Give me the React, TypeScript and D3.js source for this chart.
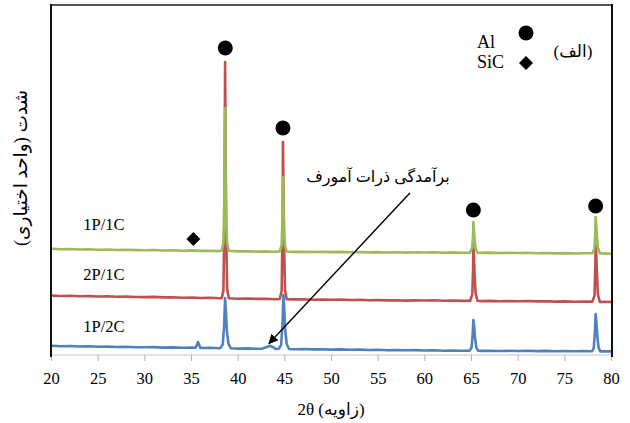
import React from "react";
import * as d3 from "d3";

const W = 630;
const H = 423;

// 2θ positions of the sampled baseline values
const THETA = d3.range(20, 81);

// Baselines (intensity, arbitrary units)
const greenBase = [
  1062, 1058, 1060, 1055, 1057, 1053, 1055, 1050, 1052, 1049,
  1048, 1050, 1045, 1047, 1043, 1046, 1041, 1043, 1039, 1041,
  1036, 1038, 1034, 1036, 1032, 1035, 1031, 1033, 1030, 1032,
  1029, 1031, 1027, 1030, 1026, 1029, 1025, 1028, 1024, 1027,
  1025, 1027, 1023, 1026, 1022, 1025, 1021, 1024, 1020, 1022,
  1020, 1022, 1018, 1020, 1016, 1019, 1015, 1017, 1013, 1016,
  1012,
];
const redBase = [
  594, 590, 592, 587, 589, 585, 587, 582, 584, 580,
  579, 581, 576, 578, 573, 575, 570, 572, 567, 569,
  563, 565, 561, 563, 558, 560, 556, 558, 553, 555,
  552, 554, 550, 552, 548, 550, 546, 548, 544, 546,
  545, 547, 543, 545, 541, 543, 539, 541, 537, 539,
  538, 540, 536, 538, 534, 536, 532, 534, 530, 532,
  530,
];
const blueBase = [
  92, 88, 90, 85, 87, 82, 84, 80, 82, 78,
  77, 79, 74, 76, 72, 74, 70, 72, 68, 70,
  64, 66, 62, 64, 60, 63, 58, 60, 56, 58,
  54, 56, 52, 54, 50, 52, 48, 50, 47, 49,
  45, 47, 43, 45, 42, 44, 41, 43, 40, 42,
  40, 42, 39, 41, 38, 40, 37, 39, 36, 38,
  36,
];

// Peaks [2θ, intensity]
const greenPeaks: number[][][] = [
  [[38.25, 1045], [38.42, 1120], [38.53, 1600], [38.6, 2470], [38.66, 1800], [38.72, 1350], [38.82, 1120], [39.0, 1042]],
  [[44.45, 1036], [44.66, 1100], [44.76, 1400], [44.8, 1780], [44.86, 1500], [44.92, 1250], [45.02, 1090], [45.2, 1035]],
  [[64.85, 1024], [65.08, 1075], [65.17, 1200], [65.2, 1330], [65.26, 1260], [65.33, 1150], [65.44, 1065], [65.65, 1023]],
  [[77.95, 1017], [78.18, 1065], [78.27, 1250], [78.3, 1380], [78.36, 1300], [78.44, 1180], [78.54, 1075], [78.75, 1015]],
];
const redPeaks: number[][][] = [
  [[38.25, 570], [38.42, 650], [38.53, 1400], [38.6, 2930], [38.66, 2000], [38.72, 1200], [38.82, 660], [39.0, 568]],
  [[44.45, 560], [44.66, 640], [44.76, 1300], [44.8, 2130], [44.86, 1600], [44.92, 1100], [45.02, 650], [45.2, 558]],
  [[64.85, 543], [65.08, 605], [65.17, 850], [65.2, 1100], [65.26, 1000], [65.33, 800], [65.44, 615], [65.65, 542]],
  [[77.95, 534], [78.18, 595], [78.27, 900], [78.3, 1100], [78.36, 1020], [78.44, 820], [78.54, 605], [78.75, 531]],
];
const bluePeaks: number[][][] = [
  [[35.45, 73], [35.7, 130], [35.95, 71]],
  [[38.1, 70], [38.35, 105], [38.5, 300], [38.6, 570], [38.68, 450], [38.78, 250], [38.95, 115], [39.2, 68]],
  [[42.5, 63], [43.0, 78], [43.4, 92], [43.9, 70]],
  [[44.35, 62], [44.6, 100], [44.75, 300], [44.85, 600], [44.93, 480], [45.03, 260], [45.2, 110], [45.45, 60]],
  [[64.8, 44], [65.0, 72], [65.12, 200], [65.2, 350], [65.28, 290], [65.38, 170], [65.52, 72], [65.7, 43]],
  [[77.9, 38], [78.1, 68], [78.22, 230], [78.3, 410], [78.38, 330], [78.48, 190], [78.62, 72], [78.8, 36]],
];

const xTicks = [20, 25, 30, 35, 40, 45, 50, 55, 60, 65, 70, 75, 80];

const seriesNames = ["1P/1C", "2P/1C", "1P/2C"];
const seriesColors = ["#9BBB59", "#C0504D", "#4F81BD"];
const labelIntensity = [1250, 750, 230];

const alMarkers = [[38.62, 3070], [44.8, 2270], [65.2, 1450], [78.3, 1490]];
const sicMarkers = [[35.2, 1160]];

const annotationText = "برآمدگی ذرات آمورف";
const arrowFrom = [58.4, 1620];
const arrowTo = [43.3, 115];

function buildSeries(base: number[], peaks: number[][][]) {
  const pts: number[][] = [];
  THETA.forEach((t, i) => {
    if (i >= base.length) return;
    const inside = peaks.some((p) => t >= p[0][0] && t <= p[p.length - 1][0]);
    if (!inside) pts.push([t, base[i]]);
  });
  peaks.forEach((p) => p.forEach((q) => pts.push(q)));
  pts.sort((a, b) => a[0] - b[0]);
  return pts;
}

export default function App() {
  const x = d3.scaleLinear().domain([20, 80]).range([51.5, 611.5]);
  const y = d3.scaleLinear().domain([0, 3500]).range([355, 5]);
  const line = d3
    .line<number[]>()
    .x((d) => x(d[0]))
    .y((d) => y(d[1]));

  const green = buildSeries(greenBase, greenPeaks);
  const red = buildSeries(redBase, redPeaks);
  const blue = buildSeries(blueBase, bluePeaks);

  const serif = "'Liberation Serif', 'Times New Roman', serif";
  const fa = "'Liberation Serif', 'DejaVu Sans', serif";

  const diamond = (cx: number, cy: number, r: number) =>
    `M${cx},${cy - r}L${cx + r},${cy}L${cx},${cy + r}L${cx - r},${cy}Z`;

  return (
    <svg
      width={W}
      height={H}
      style={{ position: "absolute", left: 0, top: 0, background: "#fff", fontFamily: serif }}
    >
      <defs>
        <marker id="ah" viewBox="0 0 10 10" refX="9" refY="5" markerWidth="7" markerHeight="7" orient="auto">
          <path d="M0,0L10,5L0,10Z" fill="#000" />
        </marker>
      </defs>
      <rect x={0} y={0} width={W} height={H} fill="#fff" />

      {/* bottom axis */}
      <line x1={x(20)} x2={x(80)} y1={355} y2={355} stroke="#c8c8c8" strokeWidth={1} />
      {xTicks.map((t) => (
        <g key={t}>
          <line x1={x(t)} x2={x(t)} y1={355} y2={361} stroke="#b0b0b0" strokeWidth={1} />
          <text x={x(t)} y={384} textAnchor="middle" fontSize={16.5} fill="#000" style={{ fontFamily: serif }}>
            {t}
          </text>
        </g>
      ))}

      {/* series */}
      <path d={line(red) || ""} fill="none" stroke={seriesColors[1]} strokeWidth={2.6} strokeLinejoin="round" />
      <path d={line(blue) || ""} fill="none" stroke={seriesColors[2]} strokeWidth={2.6} strokeLinejoin="round" />
      <path d={line(green) || ""} fill="none" stroke={seriesColors[0]} strokeWidth={2.6} strokeLinejoin="round" />

      {/* frame */}
      <line x1={51} x2={612} y1={5} y2={5} stroke="#555" strokeWidth={2} />
      <line x1={51} x2={51} y1={4} y2={357} stroke="#111" strokeWidth={2} />
      <line x1={612} x2={612} y1={4} y2={357} stroke="#111" strokeWidth={2} />

      {/* series labels */}
      {seriesNames.map((s, i) => (
        <text key={s} x={x(23.4)} y={y(labelIntensity[i])} fontSize={16.5} fill="#000" style={{ fontFamily: serif }}>
          {s}
        </text>
      ))}

      {/* markers */}
      {alMarkers.map((m, i) => (
        <circle key={i} cx={x(m[0])} cy={y(m[1])} r={7.5} fill="#000" />
      ))}
      {sicMarkers.map((m, i) => (
        <path key={i} d={diamond(x(m[0]), y(m[1]), 7)} fill="#000" />
      ))}

      {/* annotation */}
      <text x={378} y={182} textAnchor="middle" fontSize={16} direction="rtl" fill="#000" style={{ fontFamily: fa }}>
        {annotationText}
      </text>
      <line
        x1={x(arrowFrom[0])}
        y1={y(arrowFrom[1])}
        x2={x(arrowTo[0])}
        y2={y(arrowTo[1])}
        stroke="#000"
        strokeWidth={1.4}
        markerEnd="url(#ah)"
      />

      {/* legend */}
      <text x={477} y={48} fontSize={18} fill="#000" style={{ fontFamily: serif }}>Al</text>
      <circle cx={526} cy={33} r={7.5} fill="#000" />
      <text x={477} y={68} fontSize={18} fill="#000" style={{ fontFamily: serif }}>SiC</text>
      <path d={diamond(526, 63, 7)} fill="#000" />
      <text x={573} y={57} textAnchor="middle" fontSize={17} direction="rtl" fill="#000" style={{ fontFamily: fa }}>
        (الف)
      </text>

      {/* axis titles */}
      <text x={331} y={415} textAnchor="middle" fontSize={17} fill="#000" style={{ fontFamily: fa }}>
        2θ (زاویه)
      </text>
      <text
        transform="translate(27,168) rotate(-90)"
        textAnchor="middle"
        fontSize={18.5}
        direction="rtl"
        fill="#000"
        style={{ fontFamily: fa }}
      >
        شدت (واحد اختیاری)
      </text>
    </svg>
  );
}
